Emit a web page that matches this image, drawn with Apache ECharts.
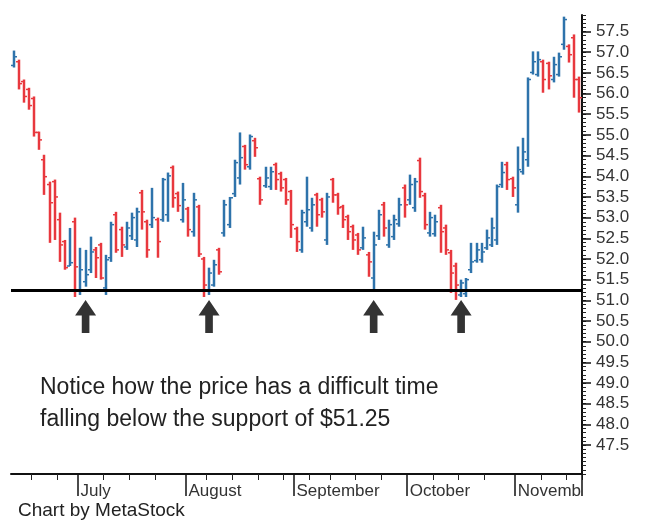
<!DOCTYPE html>
<html><head><meta charset="utf-8">
<script src="https://cdn.jsdelivr.net/npm/echarts@6/dist/echarts.min.js"></script>
<style>html,body{margin:0;padding:0;background:#fff}#c{width:652px;height:520px}</style>
</head><body><div id="c"></div>
<script>
// ---- data ----
const openP = [56.68,56.77,56.29,56.10,55.88,55.06,54.40,53.80,53.87,52.95,52.42,51.83,52.90,
  51.25,51.45,51.74,52.22,52.34,51.30,52.03,53.07,52.71,52.29,52.56,52.46,53.60,52.90,52.83,52.95,52.95,53.07,54.21,53.58,52.95,
  53.21,52.66,53.26,52.00,51.25,51.37,52.22,52.63,52.83,53.58,53.96,54.72,54.23,54.86,53.94,53.77,53.75,54.28,54.06,53.92,53.63,
  52.73,52.22,52.90,52.75,53.55,53.43,52.46,53.92,53.55,53.26,53.02,52.78,52.58,52.27,52.10,51.54,52.56,53.31,52.34,52.54,52.85,53.72,
  53.43,53.24,54.38,53.53,52.63,52.61,53.24,52.75,52.15,51.83,51.13,51.16,51.74,51.96,51.98,52.27,52.34,52.46,53.80,54.28,53.94,
  53.31,54.11,54.40,56.51,56.46,56.77,56.73,56.34,56.46,57.19,57.14,57.35,56.34];
const highP = [57.04,56.82,56.34,56.14,55.93,55.08,54.52,53.87,53.92,53.12,52.46,52.75,53.00,
  52.27,52.22,52.54,52.29,52.39,52.10,52.90,53.14,52.78,52.90,53.12,53.24,53.67,52.95,53.72,53.00,53.96,54.09,54.26,53.63,53.84,
  53.26,53.60,53.31,52.05,51.79,51.98,52.27,53.43,53.50,54.40,55.06,54.76,55.01,54.93,53.99,54.23,54.23,54.33,54.11,53.96,53.67,
  52.78,53.19,53.99,53.48,53.60,53.48,53.60,53.96,53.60,53.31,53.07,52.83,52.63,52.78,52.17,52.66,53.19,53.38,52.95,53.07,53.48,53.80,
  54.04,53.96,54.45,53.60,53.14,53.07,53.31,52.83,52.22,51.91,51.50,51.54,52.39,52.39,52.39,52.71,53.00,53.80,54.35,54.35,53.99,
  54.72,54.93,56.39,57.02,57.02,56.82,56.77,56.89,56.99,57.86,57.19,57.43,56.41];
const lowP = [56.63,56.10,55.78,55.61,54.96,54.64,53.55,52.39,52.46,51.93,51.74,51.83,51.08,
  51.13,51.33,51.66,51.54,51.50,51.13,51.93,52.15,52.05,52.22,52.46,52.29,52.71,52.03,52.75,52.03,52.90,52.90,53.24,53.14,52.88,
  52.54,52.54,52.05,51.08,51.13,51.33,51.62,52.54,52.75,53.50,53.80,54.16,54.16,54.47,53.31,53.72,53.67,53.67,53.63,53.31,52.51,
  52.17,52.15,52.78,52.66,52.78,53.00,52.34,53.36,53.07,52.75,52.46,52.22,52.10,52.22,51.57,51.25,52.46,52.54,52.27,52.46,52.78,53.00,
  53.31,53.14,53.48,52.71,52.54,52.54,52.15,52.10,51.18,51.01,51.08,51.08,51.66,51.91,51.91,52.22,52.29,52.34,53.72,53.67,53.50,
  53.12,54.04,54.23,56.46,56.41,56.02,56.10,56.27,56.41,57.06,56.75,55.90,55.54];
const closeP = [56.89,56.24,55.93,55.71,55.06,54.88,53.99,53.36,53.50,52.34,51.79,51.91,51.81,
  51.74,51.62,52.17,52.03,51.54,51.98,52.83,52.22,52.34,52.75,53.00,53.14,53.14,52.22,53.00,52.42,53.92,54.01,53.48,53.29,53.43,
  52.71,53.43,52.12,51.37,51.66,51.86,51.69,53.31,53.48,54.33,54.45,54.28,54.96,54.69,53.43,53.96,54.11,53.92,53.72,53.43,52.83,
  52.42,53.12,53.19,53.31,53.07,53.14,53.50,53.55,53.24,52.95,52.66,52.46,52.22,52.51,51.93,52.34,53.07,52.75,52.83,52.95,53.31,53.31,
  53.80,53.87,53.63,52.83,53.00,52.90,52.66,52.22,51.66,51.37,51.42,51.50,51.93,52.22,52.17,52.51,52.75,53.75,54.09,53.92,53.72,
  54.16,54.59,56.34,56.77,56.82,56.34,56.43,56.70,56.89,57.79,56.94,56.34,55.90];

const monthStarts = [13, 34, 55, 77, 98];              // first bar of each month
const monthLabels = ['July', 'August', 'September', 'October', 'Novemb'];
const weekTicks = [4, 9, 18, 23, 28, 38, 43, 48, 53, 58, 62, 67, 72, 82, 87, 92, 103, 108];
const yTickLabels = ['47.5','48.0','48.5','49.0','49.5','50.0','50.5','51.0','51.5','52.0','52.5',
  '53.0','53.5','54.0','54.5','55.0','55.5','56.0','56.5','57.0','57.5'];
const supportLevel = 51.25;
const arrowBars = [14, 38, 70, 87];
const arrowPrice = 50.61;
const yMin = 46.8, yMax = 57.9, yStep = 0.1;

// ---- build ----
const cats = openP.map((_, i) => String(i));
const ohlc = openP.map((o, i) => [i, o, closeP[i], lowP[i], highP[i]]);
const yCats = [];
for (let k = 0; k <= Math.round((yMax - yMin) / yStep); k++) yCats.push((yMin + k * yStep).toFixed(1));

const RED = '#e8383e', BLUE = '#2e73ab';
const FONT = '"Liberation Sans", Arial, sans-serif';

const chart = echarts.init(document.getElementById('c'), null, {renderer: 'canvas'});
chart.setOption({
  animation: false,
  backgroundColor: '#fff',
  grid: {left: 11, top: 15, width: 571, height: 459, containLabel: false},
  xAxis: [
    {type: 'category', data: cats, boundaryGap: true, position: 'bottom',
     axisLine: {show: true, lineStyle: {color: '#111', width: 2}},
     axisTick: {show: true, length: 6, interval: (i) => weekTicks.indexOf(i) >= 0, lineStyle: {color: '#222', width: 1}},
     axisLabel: {show: false}, splitLine: {show: false}},
    {type: 'category', data: cats, boundaryGap: true, position: 'bottom',
     axisLine: {show: false},
     axisTick: {show: true, length: 22, interval: (i) => monthStarts.indexOf(i) >= 0, lineStyle: {color: '#111', width: 1.5}},
     axisLabel: {show: true, interval: (i) => monthStarts.indexOf(i) >= 0,
       formatter: (v, i) => { const k = monthStarts.indexOf(Number(v)); return k >= 0 ? monthLabels[k] : ''; },
       align: 'left', margin: 9, fontSize: 17, fontFamily: FONT, color: '#333'},
     splitLine: {show: false}}
  ],
  yAxis: [
    {type: 'value', min: yMin, max: yMax, interval: yStep, position: 'right', scale: true,
     axisLine: {show: true, lineStyle: {color: '#111', width: 2}},
     axisTick: {show: true, length: 4, lineStyle: {color: '#222', width: 1}},
     axisLabel: {show: false}, splitLine: {show: false}},
    {type: 'category', data: yCats, boundaryGap: false, position: 'right',
     axisLine: {show: false},
     axisTick: {show: true, length: 9, interval: (i, v) => yTickLabels.indexOf(v) >= 0, lineStyle: {color: '#111', width: 1.5}},
     axisLabel: {show: true, interval: (i, v) => yTickLabels.indexOf(v) >= 0, margin: 14,
       fontSize: 17, fontFamily: FONT, color: '#333'},
     splitLine: {show: false}}
  ],
  series: [
    {type: 'custom', xAxisIndex: 0, yAxisIndex: 0, data: ohlc,
     renderItem: function (params, api) {
       const x = api.value(0), o = api.value(1), c = api.value(2), l = api.value(3), h = api.value(4);
       const pH = api.coord([x, h]), pL = api.coord([x, l]), pO = api.coord([x, o]), pC = api.coord([x, c]);
       const col = c >= o ? BLUE : RED;
       const xx = Math.round(pH[0]);
       return {type: 'group', children: [
         {type: 'line', shape: {x1: xx, y1: pH[1], x2: xx, y2: pL[1]}, style: {stroke: col, lineWidth: 2.5}},
         {type: 'line', shape: {x1: xx - 3, y1: pO[1], x2: xx, y2: pO[1]}, style: {stroke: col, lineWidth: 1.5}},
         {type: 'line', shape: {x1: xx, y1: pC[1], x2: xx + 3, y2: pC[1]}, style: {stroke: col, lineWidth: 1.5}}
       ]};
     },
     markLine: {silent: true, symbol: 'none', label: {show: false},
       lineStyle: {color: '#000', width: 3, type: 'solid'},
       data: [{yAxis: supportLevel}]},
     z: 2},
    {type: 'scatter', xAxisIndex: 0, yAxisIndex: 0,
     data: arrowBars.map(i => [i, arrowPrice]),
     symbol: 'path://M11,0 L22,16 L15,16 L15,34 L7,34 L7,16 L0,16 Z',
     symbolSize: [21, 33], itemStyle: {color: '#000'}, silent: true, z: 3}
  ],
  graphic: [
    {type: 'text', left: 40, top: 372, silent: true,
     style: {text: 'Notice how the price has a difficult time\nfalling below the support of $51.25',
       fontSize: 23, fontFamily: FONT, fill: '#222', lineHeight: 32}},
    {type: 'text', left: 18, top: 501, silent: true,
     style: {text: 'Chart by MetaStock', fontSize: 19, fontFamily: FONT, fill: '#222'}}
  ]
});
</script>
</body></html>
